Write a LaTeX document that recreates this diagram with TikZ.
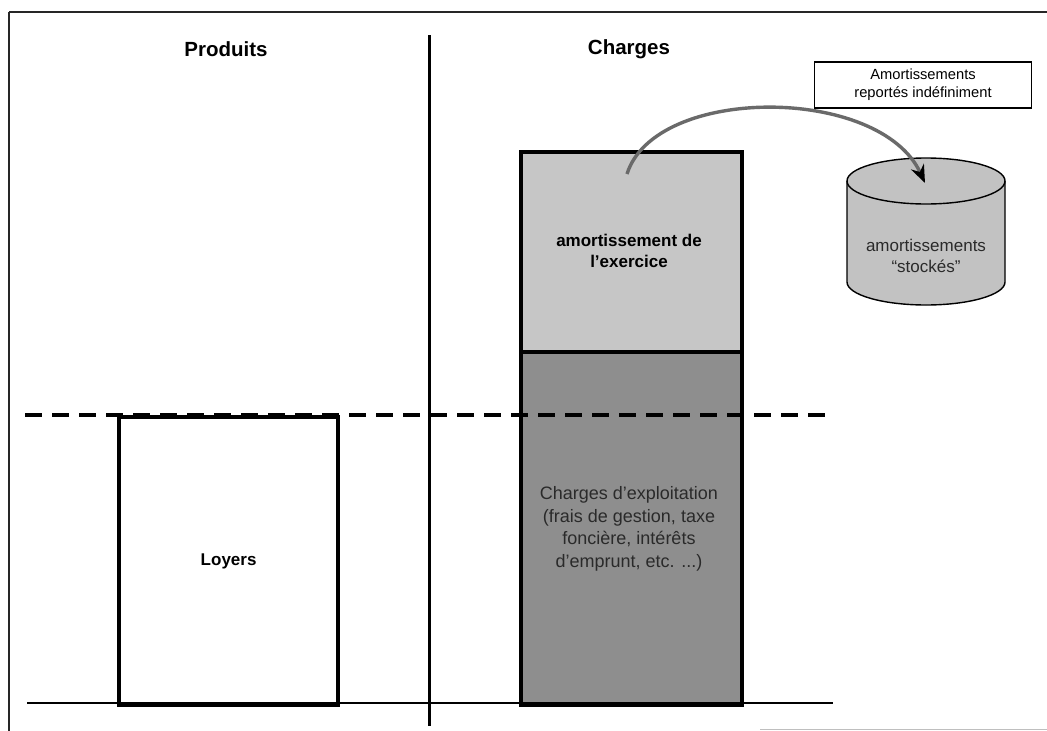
\documentclass[tikz,border=0pt]{standalone}
\usepackage{fontspec}
\setmainfont{Liberation Sans}
\usetikzlibrary{arrows.meta}
\definecolor{lightfill}{HTML}{C6C6C6}
\definecolor{darkfill}{HTML}{8E8E8E}
\definecolor{cylfill}{HTML}{C2C2C2}
\definecolor{arrowgray}{HTML}{6A6A6A}
\definecolor{darktext}{HTML}{2A2A2A}
\begin{document}
\begin{tikzpicture}[x=1pt,y=-1pt,
  frameline/.style={line width=1.8pt,black!85},
  heading/.style={font=\bfseries\fontsize{20.5}{24}\selectfont},
  barbox/.style={draw=black,line width=4.2pt,anchor=north west,inner sep=0pt},
  boxtext/.style={font=\bfseries\fontsize{17}{21}\selectfont,align=center},
  plaintext/.style={font=\fontsize{18}{22.5}\selectfont,align=center,text=darktext},
  labelbox/.style={draw=black,line width=1.5pt,minimum width=217pt,minimum height=46pt,inner sep=0pt,align=center,font=\fontsize{14.7}{18}\selectfont},
  cyltext/.style={font=\fontsize{17}{21}\selectfont,align=center,text=darktext},
  flowarrow/.style={draw=arrowgray,line width=3.4pt,-{Stealth[length=18pt,width=14pt,color=black]}}
]
\useasboundingbox (0,0) rectangle (1047,731);
\fill[white] (0,0) rectangle (1047,731);
% frame
\draw[frameline] (9,12) -- (1047,12);
\draw[frameline] (9,12) -- (9,731);
\draw[line width=1pt,black!25] (760,729) -- (1047,729);
% headings
\node[heading] (prod) at (226,49) {Produits};
\node[heading] (charg) at (629,49) {Charges};
% Loyers box
\node[barbox,minimum width=219pt,minimum height=288pt] (loyers) at (117,415) {};
\node[boxtext] (loyerstxt) at (loyers.center) {Loyers};
% charges column
\node[barbox,fill=darkfill,minimum width=221pt,minimum height=353pt] (exploit) at (519,350) {};
\node[barbox,fill=lightfill,minimum width=221pt,minimum height=200pt] (amort) at (519,150) {};
\node[boxtext] (amorttxt) at (629,251) {amortissement de\\l'exercice};
\node[plaintext] (exploittxt) at (629,529) {Charges d'exploitation\\(frais de gestion, taxe\\foncière, intérêts\\d'emprunt, etc. ...)};
% divider, baseline, dashed level
\draw[line width=3pt] (429,35) -- (429,726);
\draw[line width=2.4pt] (27,703) -- (833,703);
\draw[line width=3.4pt,dash pattern=on 17pt off 10pt] (25,415) -- (833,415);
% label box
\node[labelbox] (label) at (923,85) {Amortissements\\reportés indéfiniment};
% cylinder
\filldraw[fill=cylfill,draw=black,line width=1.4pt]
  (847,181) -- (847,282) arc[start angle=180,end angle=360,x radius=79pt,y radius=23pt]
  -- (1005,181) arc[start angle=0,end angle=180,x radius=79pt,y radius=23pt] -- cycle;
\draw[line width=1.4pt] (847,181) arc[start angle=180,end angle=360,x radius=79pt,y radius=23pt];
\node[cyltext] (cyltxt) at (926,256) {amortissements\\``stockés''};
\coordinate (src) at (627,174);
\coordinate (dst) at (925,183);
% arrow
\draw[flowarrow] (src) .. controls (655,85) and (880,85) .. (dst);
\end{tikzpicture}
\end{document}
